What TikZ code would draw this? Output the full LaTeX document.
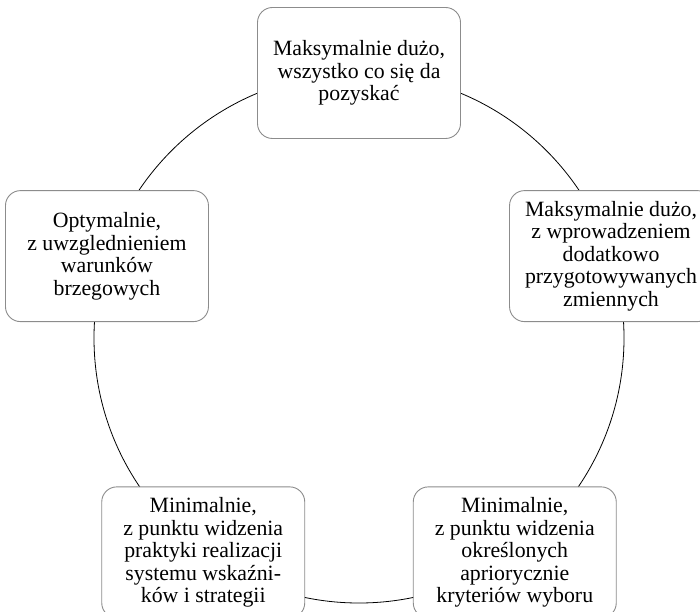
\documentclass[tikz,border=0pt]{standalone}
\usepackage{fontspec}
\setmainfont{Liberation Serif}
\usetikzlibrary{calc}
\definecolor{boxgray}{RGB}{140,140,140}
\tikzset{
  stage/.style={draw=boxgray, line width=0.9pt, fill=white, rounded corners=15pt,
    minimum width=203pt, minimum height=131pt, inner sep=0pt, align=center,
    font=\fontsize{21.8}{22.5}\selectfont},
}
\begin{document}
\begin{tikzpicture}[x=1pt,y=1pt]
  \clip (0,0) rectangle (700,611);
  \pgfmathsetmacro{\radius}{265}
  \coordinate (centre) at (359,273);
  \draw[line width=0.8pt] (centre) circle[radius=\radius];
  \node[stage] (maxall)  at ($(centre)+(90:\radius)$)   {Maksymalnie dużo,\\wszystko co się da\\pozyskać};
  \node[stage] (maxvar)  at ($(centre)+(18:\radius)$)   {Maksymalnie dużo,\\z wprowadzeniem\\dodatkowo\\przygotowywanych\\zmiennych};
  \node[stage] (minapr)  at ($(centre)+(-54:\radius)$)  {Minimalnie,\\z punktu widzenia\\określonych\\apriorycznie\\kryteriów wyboru};
  \node[stage] (minprak) at ($(centre)+(-126:\radius)$) {Minimalnie,\\z punktu widzenia\\praktyki realizacji\\systemu wskaźni-\\ków i strategii};
  \node[stage] (optimum) at ($(centre)+(162:\radius)$)  {Optymalnie,\\z uwzglednieniem\\warunków\\brzegowych};
\end{tikzpicture}
\end{document}
